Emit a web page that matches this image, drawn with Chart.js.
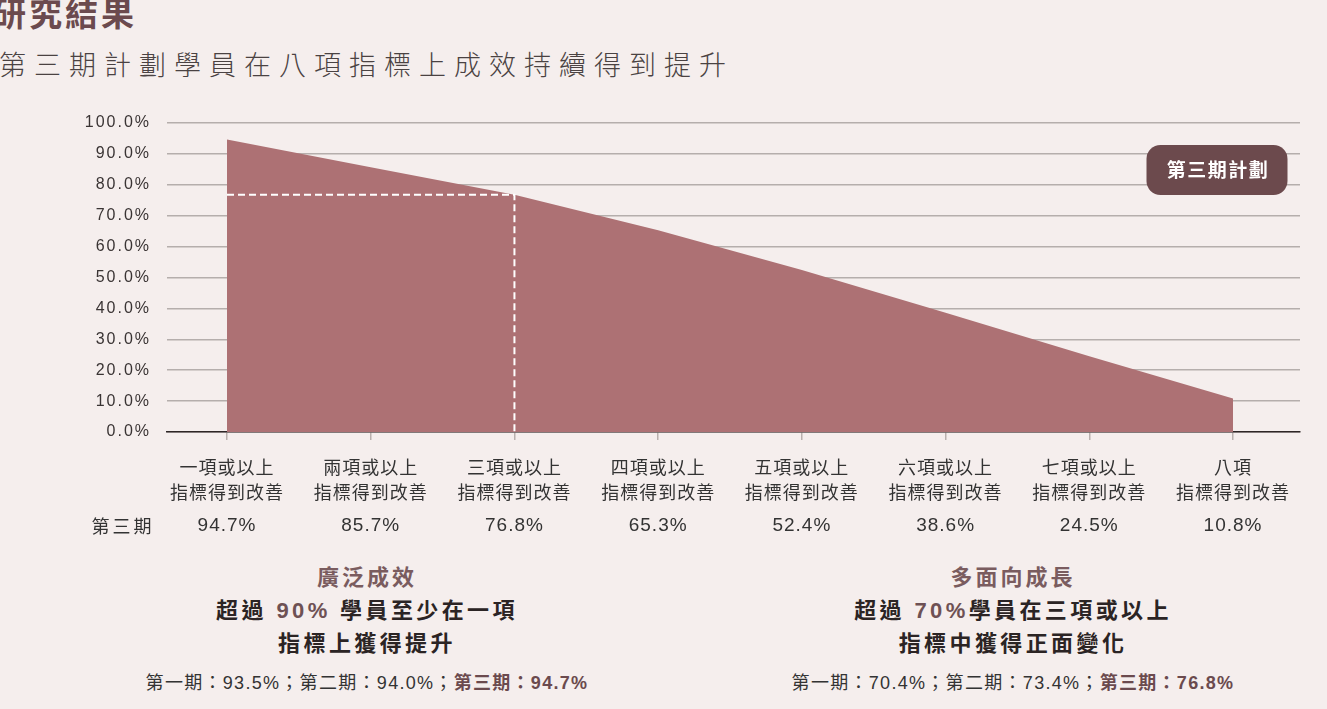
<!DOCTYPE html>
<html lang="zh-Hant">
<head>
<meta charset="UTF-8">
<meta name="viewport" content="width=device-width, initial-scale=1.0">
<title>研究結果</title>
<script src="https://cdn.jsdelivr.net/npm/chart.js"></script>
<style>
    * {
        margin: 0;
        padding: 0;
        box-sizing: border-box;
    }
    body {
        width: 1327px;
        height: 709px;
        background: #f5eeed;
        position: relative;
        overflow: hidden;
        font-family: "Liberation Sans", "Noto Sans CJK TC", sans-serif;
    }
    .title {
        position: absolute;
        left: -7px;
        top: -7px;
        font-family: "Noto Sans CJK TC";
        font-weight: 700;
        font-size: 33px;
        line-height: 38px;
        letter-spacing: 3px;
        color: #6b4a4e;
        white-space: nowrap;
    }
    .subtitle {
        position: absolute;
        left: -1px;
        top: 46px;
        font-family: "Noto Sans CJK TC";
        font-weight: 300;
        font-size: 27px;
        line-height: 36px;
        letter-spacing: 8px;
        color: #4a4242;
        white-space: nowrap;
    }
    #chartBox {
        position: absolute;
        left: 0;
        top: 100px;
        width: 1327px;
        height: 445px;
    }
    .note {
        position: absolute;
        top: 561px;
        width: 640px;
        text-align: center;
        white-space: nowrap;
    }
    .note .head {
        font-size: 22px;
        font-weight: 700;
        color: #7a5c5f;
        letter-spacing: 3px;
        line-height: 33px;
    }
    .note .main {
        font-size: 22px;
        font-weight: 700;
        color: #2b2424;
        letter-spacing: 3.4px;
        line-height: 33px;
    }
    .note .main b {
        color: #6e5154;
    }
    .note .sub {
        margin-top: 11px;
        font-size: 18px;
        color: #333;
        letter-spacing: 1.3px;
        line-height: 24px;
    }
    .note .sub b {
        color: #6b4a4e;
    }
</style>
</head>
<body>
    <div class="title">研究結果</div>
    <div class="subtitle">第三期計劃學員在八項指標上成效持續得到提升</div>

    <div id="chartBox">
        <canvas id="resultChart"></canvas>
    </div>

    <div class="note" style="left:47px">
        <div class="head">廣泛成效</div>
        <div class="main">超過 <b>90%</b> 學員至少在一項</div>
        <div class="main">指標上獲得提升</div>
        <div class="sub">第一期：93.5%；第二期：94.0%；<b>第三期：94.7%</b></div>
    </div>
    <div class="note" style="left:693px">
        <div class="head">多面向成長</div>
        <div class="main">超過 <b>70%</b>學員在三項或以上</div>
        <div class="main">指標中獲得正面變化</div>
        <div class="sub">第一期：70.4%；第二期：73.4%；<b>第三期：76.8%</b></div>
    </div>

<script>
    const categories = [
        ['一項或以上', '指標得到改善'],
        ['兩項或以上', '指標得到改善'],
        ['三項或以上', '指標得到改善'],
        ['四項或以上', '指標得到改善'],
        ['五項或以上', '指標得到改善'],
        ['六項或以上', '指標得到改善'],
        ['七項或以上', '指標得到改善'],
        ['八項', '指標得到改善']
    ];
    const phase3Values = [94.7, 85.7, 76.8, 65.3, 52.4, 38.6, 24.5, 10.8];
    const rowLabel = '第三期';
    const badgeText = '第三期計劃';
    const guideIndex = 2; // "三項或以上" is marked with the dashed guide

    const areaPoints = phase3Values.map((v, i) => ({ x: i, y: v }));
    const guidePoints = [
        { x: 0, y: phase3Values[guideIndex] },
        { x: guideIndex, y: phase3Values[guideIndex] },
        { x: guideIndex, y: 0 }
    ];

    // value row under the axis, the badge, and the letter spacing of the tick labels
    const extrasPlugin = {
        id: 'extras',
        beforeDraw(chart) {
            chart.ctx.letterSpacing = '2px';
        },
        afterDatasetsDraw(chart) {
            chart.ctx.letterSpacing = '1px';
        },
        afterDraw(chart) {
            const { ctx, chartArea, scales: { x } } = chart;
            ctx.save();
            ctx.textAlign = 'center';
            ctx.textBaseline = 'middle';
            ctx.fillStyle = '#333';
            const rowY = chartArea.bottom + 94;
            ctx.letterSpacing = '1px';
            ctx.font = '19px "Liberation Sans"';
            phase3Values.forEach((v, i) => {
                ctx.fillText(v.toFixed(1) + '%', x.getPixelForValue(i), rowY);
            });
            ctx.letterSpacing = '3px';
            ctx.font = '18px "Noto Sans CJK TC"';
            ctx.fillText(rowLabel, 123, rowY);

            const bw = 141, bh = 50;
            const bx = chartArea.right - 153.5;
            const by = chartArea.top + 22;
            ctx.fillStyle = '#6c4a4d';
            ctx.beginPath();
            ctx.roundRect(bx, by, bw, bh, 14);
            ctx.fill();
            ctx.fillStyle = '#fff';
            ctx.letterSpacing = '1.5px';
            ctx.font = 'bold 19px "Noto Sans CJK TC"';
            ctx.fillText(badgeText, bx + bw / 2 + 1, by + bh / 2);
            ctx.restore();
            chart.ctx.letterSpacing = '0px';
        }
    };

    const ctx = document.getElementById('resultChart').getContext('2d');
    const resultChart = new Chart(ctx, {
        type: 'line',
        data: {
            datasets: [
                {
                    label: 'guide',
                    data: guidePoints,
                    borderColor: '#ffffff',
                    borderWidth: 2,
                    borderDash: [7, 4],
                    pointRadius: 0,
                    fill: false,
                    tension: 0
                },
                {
                    label: rowLabel,
                    data: areaPoints,
                    backgroundColor: '#ad7174',
                    borderColor: '#ad7174',
                    borderWidth: 0,
                    pointRadius: 0,
                    fill: 'origin',
                    tension: 0
                }
            ]
        },
        options: {
            responsive: true,
            maintainAspectRatio: false,
            animation: false,
            layout: {
                padding: { top: 23, right: 27, left: 0, bottom: 0 }
            },
            plugins: {
                legend: { display: false },
                tooltip: { enabled: false }
            },
            scales: {
                x: {
                    type: 'linear',
                    min: -0.4175,
                    max: 7.466,
                    afterBuildTicks: (scale) => {
                        scale.ticks = categories.map((c, i) => ({ value: i }));
                    },
                    afterFit: (scale) => {
                        scale.height = 113;
                    },
                    ticks: {
                        callback: (value) => categories[value],
                        autoSkip: false,
                        maxRotation: 0,
                        padding: 14.5,
                        color: '#333',
                        z: 1,
                        font: {
                            family: '"Noto Sans CJK TC"',
                            size: 18,
                            lineHeight: 1.4
                        }
                    },
                    grid: {
                        drawOnChartArea: false,
                        drawTicks: true,
                        tickLength: 8,
                        color: '#b9b0ae',
                        lineWidth: 1.5
                    },
                    border: {
                        display: true,
                        color: '#2e2626',
                        width: 1.5
                    }
                },
                y: {
                    min: 0,
                    max: 100,
                    afterFit: (scale) => {
                        scale.width = 167;
                        scale.paddingTop = 0;
                        scale.paddingBottom = 0;
                    },
                    ticks: {
                        stepSize: 10,
                        padding: 16,
                        color: '#3a3434',
                        callback: (v) => v.toFixed(1) + '%',
                        font: {
                            family: '"Liberation Sans"',
                            size: 16
                        }
                    },
                    grid: {
                        color: '#b5aeac',
                        lineWidth: 1.5,
                        drawTicks: false
                    },
                    border: { display: false }
                }
            }
        },
        plugins: [extrasPlugin]
    });
</script>
</body>
</html>
